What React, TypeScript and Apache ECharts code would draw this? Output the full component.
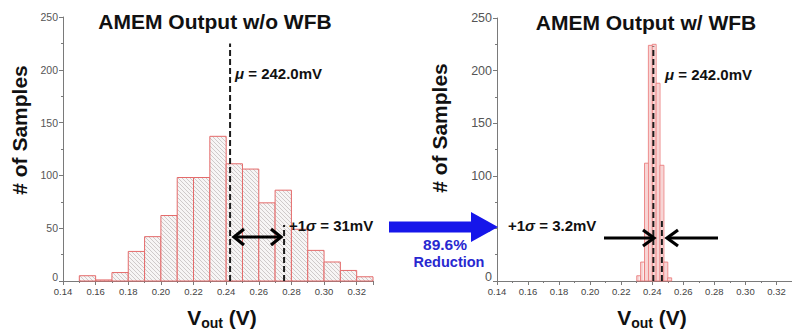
import React, { useEffect, useRef } from "react";
import * as echarts from "echarts";

// ---- data ----
const leftBinStarts = [0.15, 0.16, 0.17, 0.18, 0.19, 0.2, 0.21, 0.22, 0.23, 0.24, 0.25, 0.26, 0.27, 0.28, 0.29, 0.3, 0.31, 0.32];
const leftBinWidth = 0.01;
const leftCounts = [5, 1, 8, 28, 42, 62, 98, 98, 137, 111, 106, 74, 86, 49, 29, 18, 10, 4];

const rightBinStarts = [0.23, 0.2325, 0.235, 0.2375, 0.24, 0.2425, 0.245, 0.2475, 0.25];
const rightBinWidth = 0.0025;
const rightCounts = [5, 18, 112, 224, 225, 188, 110, 18, 3];

const leftMeanLine = [[0.2424, 0], [0.2424, 225]];
const leftSigmaLine = [[0.2755, 0], [0.2755, 53]];
const rightMeanLine = [[0.2407, 0], [0.2407, 223]];
const rightSigmaLine = [[0.2462, 0], [0.2462, 60]];

const titles = ["AMEM Output w/o WFB", "AMEM Output w/ WFB"];
const xTickFormat = (v: number) => v.toFixed(2);

const FONT = "Liberation Sans, Arial, sans-serif";

function makeHatch(bg: string, line: string, vertical: boolean): HTMLCanvasElement {
  const c = document.createElement("canvas");
  c.width = 4;
  c.height = 4;
  const ctx = c.getContext("2d")!;
  ctx.fillStyle = bg;
  ctx.fillRect(0, 0, 4, 4);
  ctx.strokeStyle = line;
  ctx.lineWidth = 0.8;
  ctx.beginPath();
  if (vertical) {
    ctx.moveTo(2, 0);
    ctx.lineTo(2, 4);
  } else {
    ctx.moveTo(-1, -1);
    ctx.lineTo(5, 5);
  }
  ctx.stroke();
  return c;
}

export default function App() {
  const ref = useRef<HTMLDivElement>(null);
  useEffect(() => {
    if (!ref.current) return;
    const chart = echarts.init(ref.current, null, { renderer: "svg" });
    const hatchL = makeHatch("#f7f5f5", "#c4bfbf", false);
    const hatchR = makeHatch("#fcecec", "#f0b4b4", true);
    const leftData = leftBinStarts.map((s, i) => [s, s + leftBinWidth, leftCounts[i]]);
    const rightData = rightBinStarts.map((s, i) => [s, s + rightBinWidth, rightCounts[i]]);

    const mkRender = (fill: any, stroke: string, lw: number) => (params: any, api: any) => {
      const p0 = api.coord([api.value(0), api.value(2)]);
      const p1 = api.coord([api.value(1), 0]);
      return {
        type: "rect",
        shape: { x: p0[0], y: p0[1], width: p1[0] - p0[0], height: p1[1] - p0[1] },
        style: { fill, stroke, lineWidth: lw },
      };
    };

    const xAxisBase = (gi: number) => ({
      type: "value",
      gridIndex: gi,
      min: 0.14,
      max: 0.33,
      interval: 0.02,
      axisLine: { lineStyle: { color: "#7a7a7a", width: 1 } },
      axisTick: { show: true, length: 4, lineStyle: { color: "#7a7a7a" } },
      minorTick: { show: true, splitNumber: 2, length: 2, lineStyle: { color: "#7a7a7a" } },
      splitLine: { show: false },
      axisLabel: {
        formatter: xTickFormat,
        fontFamily: FONT,
        fontSize: 9.5,
        color: "#444",
        margin: 5,
        showMaxLabel: false,
      },
    });
    const yAxisBase = (gi: number, fs: number) => ({
      type: "value",
      gridIndex: gi,
      min: 0,
      max: 250,
      interval: 50,
      axisLine: { show: true, lineStyle: { color: "#7a7a7a", width: 1 } },
      axisTick: { show: true, length: 4, lineStyle: { color: "#7a7a7a" } },
      minorTick: { show: true, splitNumber: 2, length: 2, lineStyle: { color: "#7a7a7a" } },
      splitLine: { show: false },
      axisLabel: {
        fontFamily: FONT,
        fontSize: fs,
        color: "#555",
        margin: 5,
        formatter: (v: number) => (v === 0 ? "{z|0}" : String(v)),
        rich: { z: { fontFamily: FONT, fontSize: fs, color: "#555", padding: [0, 0, 9, 0] } },
      },
    });

    const dashLine = (xi: number, data: number[][]) => ({
      type: "line",
      xAxisIndex: xi,
      yAxisIndex: xi,
      data,
      symbol: "none",
      z: 5,
      lineStyle: { color: "#1c1c1c", width: 2, type: [6, 3] },
    });

    const chevron = (pts: number[][]) => ({
      type: "polyline",
      shape: { points: pts },
      style: { stroke: "#000", lineWidth: 3.2, fill: null },
      z: 100,
    });
    const hline = (x1: number, x2: number, y: number) => ({
      type: "line",
      shape: { x1, y1: y, x2, y2: y },
      style: { stroke: "#000", lineWidth: 3.2 },
      z: 100,
    });
    const boldText = (x: number, y: number, rich: string, size: number, align = "left") => ({
      type: "text",
      x,
      y,
      z: 100,
      style: {
        text: rich,
        fontFamily: FONT,
        fontWeight: "bold",
        fontSize: size,
        fill: "#111",
        align,
        verticalAlign: "middle",
        rich: {
          i: { fontFamily: FONT, fontWeight: "bold", fontStyle: "italic", fontSize: size, fill: "#111" },
        },
      },
    });
    const title = (x: number, y: number, t: string) => ({
      type: "text",
      x,
      y,
      z: 100,
      style: { text: t, fontFamily: FONT, fontWeight: "bold", fontSize: 21, fill: "#111", align: "center", verticalAlign: "middle" },
    });
    const yName = (x: number, y: number) => ({
      type: "text",
      x,
      y,
      rotation: Math.PI / 2,
      z: 100,
      style: { text: "# of Samples", fontFamily: FONT, fontWeight: "bold", fontSize: 21, fill: "#111", align: "center", verticalAlign: "middle" },
    });
    const xName = (x: number, y: number) => ({
      type: "text",
      x,
      y,
      z: 100,
      style: {
        text: "{v|V}{s|out}{v| (V)}",
        align: "center",
        verticalAlign: "middle",
        rich: {
          v: { fontFamily: FONT, fontWeight: "bold", fontSize: 21, fill: "#111", lineHeight: 22, verticalAlign: "bottom" },
          s: { fontFamily: FONT, fontWeight: "bold", fontSize: 14, fill: "#111", lineHeight: 22, verticalAlign: "bottom", padding: [0, 0, -2, 0] },
        },
      },
    });

    chart.setOption({
      animation: false,
      backgroundColor: "#fff",
      grid: [
        { left: 63, top: 17, right: 419, bottom: 50 },
        { left: 497, top: 18, right: -7, bottom: 50 },
      ],
      xAxis: [xAxisBase(0), xAxisBase(1)],
      yAxis: [yAxisBase(0, 10.5), yAxisBase(1, 12.5)],
      series: [
        {
          type: "custom",
          xAxisIndex: 0,
          yAxisIndex: 0,
          data: leftData,
          renderItem: mkRender({ image: hatchL, repeat: "repeat" }, "#e46a6a", 1),
          z: 2,
        },
        {
          type: "custom",
          xAxisIndex: 1,
          yAxisIndex: 1,
          data: rightData,
          renderItem: mkRender({ image: hatchR, repeat: "repeat" }, "#e87070", 0.8),
          z: 2,
        },
        dashLine(0, leftMeanLine),
        dashLine(0, leftSigmaLine),
        dashLine(1, rightMeanLine),
        dashLine(1, rightSigmaLine),
      ],
      graphic: [
        title(215, 21, titles[0]),
        title(646, 22, titles[1]),
        yName(19, 130),
        yName(439, 128),
        xName(222, 317),
        xName(652, 317),
        boldText(235, 73, "{i|μ} = 242.0mV", 15),
        boldText(665, 74, "{i|μ} = 242.0mV", 15),
        boldText(289, 225, "+1{i|σ} = 31mV", 15),
        boldText(508, 225, "+1{i|σ} = 3.2mV", 15),
        // left double arrow
        hline(234, 281, 237),
        chevron([[244, 229], [234, 237], [244, 245]]),
        chevron([[271, 229], [281, 237], [271, 245]]),
        // right converging arrows
        hline(604, 653, 238),
        chevron([[643, 230], [654, 238], [643, 246]]),
        hline(668, 718, 238),
        chevron([[678, 230], [667, 238], [678, 246]]),
        // blue arrow
        {
          type: "polygon",
          z: 100,
          shape: {
            points: [[389, 221.5], [471, 221.5], [471, 212], [498, 227], [471, 242], [471, 232.5], [389, 232.5]],
          },
          style: { fill: "#1616ea" },
        },
        {
          type: "text",
          x: 445,
          y: 244,
          z: 100,
          style: { text: "89.6%", fontFamily: FONT, fontWeight: "bold", fontSize: 15.5, fill: "#2828d0", align: "center", verticalAlign: "middle" },
        },
        {
          type: "text",
          x: 449,
          y: 262,
          z: 100,
          style: { text: "Reduction", fontFamily: FONT, fontWeight: "bold", fontSize: 14.5, fill: "#2828d0", align: "center", verticalAlign: "middle" },
        },
      ],
    });
    return () => chart.dispose();
  }, []);
  return (
    <div
      ref={ref}
      style={{ position: "fixed", left: 0, top: 0, width: 792, height: 331, background: "#fff" }}
    />
  );
}
